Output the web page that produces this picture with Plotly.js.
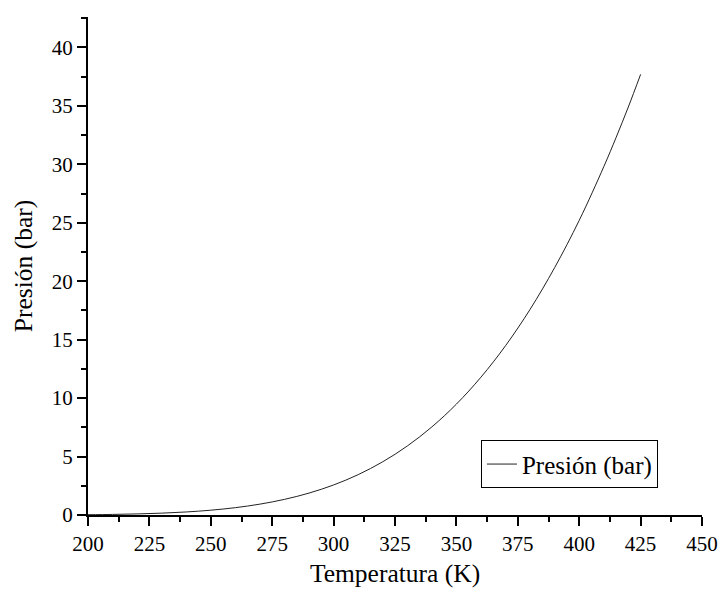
<!DOCTYPE html>
<html>
<head>
<meta charset="utf-8">
<script src="https://cdn.plot.ly/plotly-3.0.1.min.js"></script>
<style>html,body{margin:0;padding:0;background:#fff;}#chart{width:721px;height:599px;}</style>
</head>
<body>
<div id="chart"></div>
<script>
const temperature = [200, 210, 220, 230, 240, 250, 260, 270, 280, 290, 300, 310, 320, 330, 340, 350, 360, 370, 380, 390, 400, 410, 415, 420, 425];
const pressure = [0.026, 0.050, 0.092, 0.158, 0.260, 0.411, 0.628, 0.929, 1.337, 1.875, 2.570, 3.452, 4.552, 5.900, 7.534, 9.484, 11.79, 14.48, 17.59, 21.16, 25.20, 29.79, 32.28, 34.90, 37.69];
const seriesName = 'Presión (bar)';
const xTitle = 'Temperatura (K)';
const yTitle = 'Presión (bar)';

const font = '"Times New Roman", "Liberation Serif", serif';
const trace = {
  x: temperature, y: pressure, name: seriesName, type: 'scatter', mode: 'lines',
  line: {color: '#222', width: 1, shape: 'spline'}, showlegend: true
};
const layout = {
  width: 721, height: 599,
  margin: {l: 88, r: 19, t: 17, b: 84},
  paper_bgcolor: '#fff', plot_bgcolor: '#fff',
  font: {family: font, color: '#000', size: 21},
  xaxis: {
    showline: true, linecolor: '#000', linewidth: 2, showgrid: false, zeroline: false,
    ticks: 'outside', ticklen: 9, tickwidth: 2, tickcolor: '#000',
    tickfont: {family: font, size: 21, color: '#000'},
    range: [200, 450], dtick: 25, tick0: 200, tickmode: 'linear',
    minor: {dtick: 12.5, ticks: 'outside', ticklen: 5, tickwidth: 2, tickcolor: '#000', showgrid: false},
    title: {text: xTitle, font: {family: font, size: 25.5, color: '#000'}, standoff: 9}
  },
  yaxis: {
    showline: true, linecolor: '#000', linewidth: 2, showgrid: false, zeroline: false,
    ticks: 'outside', ticklen: 9, tickwidth: 2, tickcolor: '#000',
    tickfont: {family: font, size: 21, color: '#000'},
    range: [0, 42.6], dtick: 5, tick0: 0, tickmode: 'linear',
    minor: {dtick: 2.5, ticks: 'outside', ticklen: 5, tickwidth: 2, tickcolor: '#000', showgrid: false},
    title: {text: yTitle, font: {family: font, size: 25.5, color: '#000'}, standoff: 12}
  },
  legend: {
    x: 0.64, y: 0.15, xanchor: 'left', yanchor: 'top',
    bordercolor: '#000', borderwidth: 1, bgcolor: '#fff',
    font: {family: font, size: 25, color: '#000'}
  },
  showlegend: true
};
Plotly.newPlot('chart', [trace], layout, {displayModeBar: false, staticPlot: true});
</script>
</body>
</html>
